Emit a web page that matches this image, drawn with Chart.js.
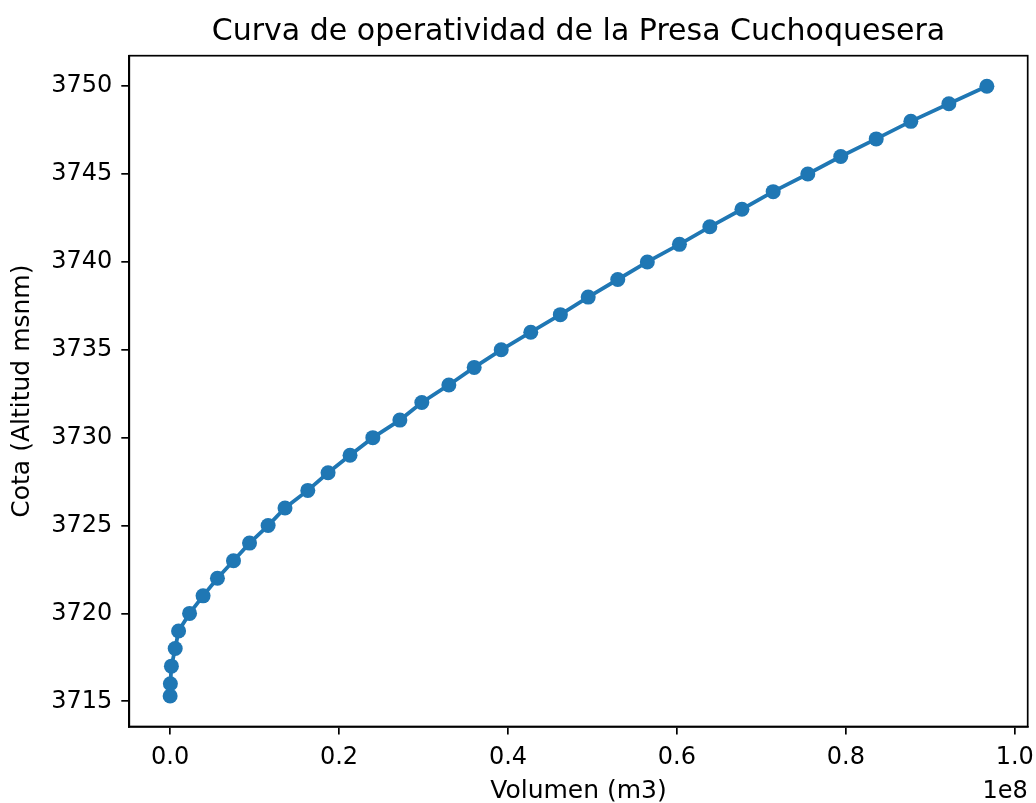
<!DOCTYPE html>
<html>
<head>
<meta charset="utf-8">
<script src="https://cdn.jsdelivr.net/npm/chart.js@4.4.1/dist/chart.umd.min.js"></script>
<style>
  body { margin: 0; background: #fff; }
  #wrap { width: 1036px; height: 803px; }
</style>
</head>
<body>
<div id="wrap"><canvas id="myChart" width="1036" height="803"></canvas></div>
<script>
// cota del embalse (msnm) y volumen almacenado (m3)
const cota = [3715.3, 3716, 3717, 3718, 3719, 3720, 3721, 3722, 3723, 3724, 3725,
  3726, 3727, 3728, 3729, 3730, 3731, 3732, 3733, 3734, 3735, 3736, 3737, 3738,
  3739, 3740, 3741, 3742, 3743, 3744, 3745, 3746, 3747, 3748, 3749, 3750];
const volumen = [0, 0.03e6, 0.15e6, 0.6e6, 1.0e6, 2.3e6, 3.9e6, 5.6e6, 7.5e6, 9.4e6, 11.6e6,
  13.6e6, 16.3e6, 18.7e6, 21.3e6, 24.0e6, 27.2e6, 29.8e6, 33.0e6, 36.0e6, 39.2e6, 42.7e6,
  46.2e6, 49.5e6, 53.0e6, 56.5e6, 60.3e6, 63.9e6, 67.7e6, 71.4e6, 75.5e6, 79.4e6, 83.6e6,
  87.7e6, 92.2e6, 96.7e6];
const xTicks = [0, 0.2e8, 0.4e8, 0.6e8, 0.8e8, 1.0e8];
const yTicks = [3715, 3720, 3725, 3730, 3735, 3740, 3745, 3750];

const azul = '#1f77b4';
const fuente = '"DejaVu Sans", sans-serif';

// margen del 5% como en matplotlib
function rango(arr) {
  const lo = Math.min(...arr), hi = Math.max(...arr);
  const m = (hi - lo) * 0.05;
  return [lo - m, hi + m];
}
const [xMin, xMax] = rango(volumen);
const [yMin, yMax] = rango(cota);

const puntos = volumen.map((v, i) => ({x: v, y: cota[i]}));

// marco completo del area y el factor de escala del eje x
const marco = {
  id: 'marco',
  afterDraw(chart) {
    const {ctx, chartArea: a} = chart;
    ctx.save();
    ctx.strokeStyle = '#000';
    ctx.lineWidth = 1.7;
    ctx.strokeRect(a.left, a.top, a.right - a.left, a.bottom - a.top);
    ctx.font = '24px ' + fuente;
    ctx.fillStyle = '#000';
    ctx.textAlign = 'right';
    ctx.textBaseline = 'alphabetic';
    ctx.fillText('1e8', a.right, a.bottom + 71);
    ctx.restore();
  }
};

const ctx = document.getElementById('myChart');
const myChart = new Chart(ctx, {
  type: 'scatter',
  data: {
    datasets: [{
      data: puntos,
      showLine: true,
      borderColor: azul,
      borderWidth: 3.8,
      backgroundColor: azul,
      pointRadius: 7.5,
      pointBorderWidth: 0,
      pointHoverRadius: 7.5
    }]
  },
  options: {
    responsive: false,
    animation: false,
    layout: { padding: { left: 0, right: 8.3, top: 0, bottom: 0 } },
    plugins: {
      legend: { display: false },
      tooltip: { enabled: false },
      title: {
        display: true,
        fullSize: false,
        text: 'Curva de operatividad de la Presa Cuchoquesera',
        color: '#000',
        font: { family: fuente, size: 30, weight: 'normal' },
        padding: { top: 14, bottom: 5.7 }
      }
    },
    scales: {
      x: {
        type: 'linear',
        min: xMin,
        max: xMax,
        afterBuildTicks: (s) => { s.ticks = xTicks.map(v => ({value: v})); },
        afterFit: (s) => { s.height = 76.5; s.paddingLeft = 0; s.paddingRight = 0; },
        grid: { drawOnChartArea: false, drawTicks: true, tickLength: 8, color: '#000', lineWidth: 1.7 },
        border: { display: true, color: '#000', width: 1.7 },
        ticks: {
          color: '#000',
          font: { family: fuente, size: 24 },
          padding: 9,
          maxRotation: 0,
          callback: (v) => (v / 1e8).toFixed(1)
        },
        title: {
          display: true,
          text: 'Volumen (m3)',
          color: '#000',
          font: { family: fuente, size: 25 },
          padding: { top: 0, bottom: -3 }
        }
      },
      y: {
        type: 'linear',
        min: yMin,
        max: yMax,
        afterBuildTicks: (s) => { s.ticks = yTicks.map(v => ({value: v})); },
        afterFit: (s) => { s.width = 129.3; s.paddingTop = 0; s.paddingBottom = 0; },
        grid: { drawOnChartArea: false, drawTicks: true, tickLength: 8, color: '#000', lineWidth: 1.7 },
        border: { display: true, color: '#000', width: 1.7 },
        ticks: {
          color: '#000',
          font: { family: fuente, size: 24 },
          padding: 9,
          callback: (v) => String(v)
        },
        title: {
          display: true,
          text: 'Cota (Altitud msnm)',
          color: '#000',
          font: { family: fuente, size: 25 },
          padding: { top: 7, bottom: 0 }
        }
      }
    }
  },
  plugins: [marco]
});
</script>
</body>
</html>
